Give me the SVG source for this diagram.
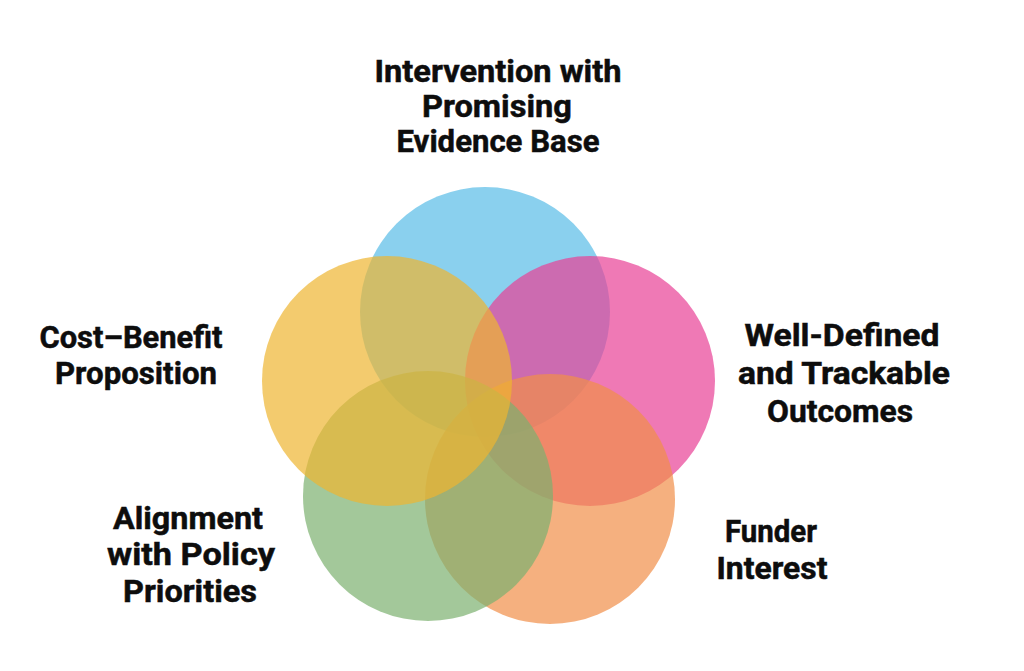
<svg xmlns="http://www.w3.org/2000/svg" width="1024" height="671" viewBox="0 0 1024 671">
<style>
.c{opacity:0.7}
.t{font-family:Roboto,"Liberation Sans",Arial,sans-serif;font-weight:700;font-size:31px;fill:#0d0d0d;stroke:#0d0d0d;stroke-width:0.5px;text-anchor:middle}
</style>
<rect width="1024" height="671" fill="#ffffff"/>
<g id="circles">
<circle id="c-evidence" class="c" cx="485" cy="312" r="125" fill="#59BCE7"/>
<circle id="c-outcomes" class="c" cx="590" cy="381" r="125" fill="#E84095"/>
<circle id="c-funder" class="c" cx="550" cy="499" r="125" fill="#F18E48"/>
<circle id="c-policy" class="c" cx="428" cy="496" r="125" fill="#7CB06F"/>
<circle id="c-cost" class="c" cx="387" cy="381" r="125" fill="#EEB530"/>
</g>
<g id="label-evidence">
<text class="t" x="498" y="82" textLength="247" lengthAdjust="spacingAndGlyphs">Intervention with</text>
<text class="t" x="497" y="117" textLength="150" lengthAdjust="spacingAndGlyphs">Promising</text>
<text class="t" x="498" y="152" textLength="203" lengthAdjust="spacingAndGlyphs">Evidence Base</text>
</g>
<g id="label-cost">
<text class="t" x="131" y="348" textLength="183" lengthAdjust="spacingAndGlyphs">Cost–Benefit</text>
<text class="t" x="136" y="384" textLength="162" lengthAdjust="spacingAndGlyphs">Proposition</text>
</g>
<g id="label-outcomes">
<text class="t" x="842" y="346" textLength="195" lengthAdjust="spacingAndGlyphs">Well-Defined</text>
<text class="t" x="844" y="384" textLength="212" lengthAdjust="spacingAndGlyphs">and Trackable</text>
<text class="t" x="840" y="422" textLength="146" lengthAdjust="spacingAndGlyphs">Outcomes</text>
</g>
<g id="label-policy">
<text class="t" x="188" y="529" textLength="150" lengthAdjust="spacingAndGlyphs">Alignment</text>
<text class="t" x="191" y="565" textLength="168" lengthAdjust="spacingAndGlyphs">with Policy</text>
<text class="t" x="190" y="602" textLength="134" lengthAdjust="spacingAndGlyphs">Priorities</text>
</g>
<g id="label-funder">
<text class="t" x="771" y="542" textLength="92" lengthAdjust="spacingAndGlyphs">Funder</text>
<text class="t" x="772" y="579" textLength="111" lengthAdjust="spacingAndGlyphs">Interest</text>
</g>
</svg>
